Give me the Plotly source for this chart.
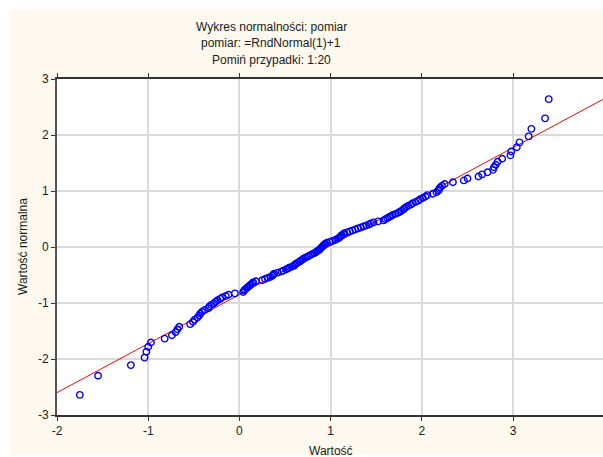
import plotly.graph_objects as go

# ---- data ----
obs_x = [
    -1.75, -1.55, -1.19, -1.04, -1.02, -1.00, -0.97, -0.82, -0.74, -0.70,
    -0.68, -0.66, -0.54, -0.51, -0.49, -0.46, -0.44, -0.43, -0.41, -0.38,
    -0.34, -0.33, -0.31, -0.28, -0.26, -0.24, -0.21, -0.19, -0.15, -0.12,
    -0.05, 0.04, 0.05, 0.06, 0.08, 0.09, 0.11, 0.12, 0.14, 0.15,
    0.18, 0.25, 0.28, 0.31, 0.34, 0.36, 0.37, 0.38, 0.42, 0.46,
    0.48, 0.51, 0.53, 0.55, 0.58, 0.60, 0.61, 0.62, 0.64, 0.66,
    0.67, 0.69, 0.70, 0.72, 0.74, 0.76, 0.78, 0.80, 0.82, 0.84,
    0.85, 0.87, 0.88, 0.89, 0.90, 0.91, 0.92, 0.93, 0.94, 0.96,
    0.99, 1.02, 1.05, 1.07, 1.09, 1.10, 1.11, 1.12, 1.14, 1.15,
    1.18, 1.21, 1.24, 1.27, 1.30, 1.33, 1.36, 1.39, 1.42, 1.44,
    1.47, 1.52, 1.58, 1.60, 1.62, 1.64, 1.66, 1.68, 1.71, 1.74,
    1.76, 1.78, 1.80, 1.81, 1.83, 1.85, 1.88, 1.90, 1.93, 1.96,
    1.98, 2.01, 2.04, 2.06, 2.12, 2.16, 2.18, 2.19, 2.20, 2.22,
    2.25, 2.34, 2.46, 2.50, 2.62, 2.66, 2.72, 2.78, 2.79, 2.81,
    2.83, 2.88, 2.97, 2.98, 3.04, 3.07, 3.17, 3.20, 3.35, 3.39,
]
normal_y = [
    -2.64, -2.30, -2.11, -1.975, -1.87, -1.78, -1.705, -1.637, -1.577, -1.522,
    -1.470, -1.423, -1.378, -1.336, -1.297, -1.259, -1.223, -1.189, -1.156, -1.124,
    -1.093, -1.063, -1.034, -1.006, -0.979, -0.952, -0.926, -0.901, -0.876, -0.852,
    -0.828, -0.805, -0.782, -0.759, -0.737, -0.716, -0.694, -0.673, -0.652, -0.632,
    -0.611, -0.591, -0.572, -0.552, -0.533, -0.514, -0.495, -0.476, -0.458, -0.439,
    -0.421, -0.403, -0.385, -0.367, -0.349, -0.332, -0.314, -0.297, -0.279, -0.262,
    -0.245, -0.228, -0.211, -0.194, -0.177, -0.160, -0.143, -0.126, -0.109, -0.092,
    -0.075, -0.058, -0.042, -0.025, -0.008, 0.008, 0.025, 0.042, 0.058, 0.075,
    0.092, 0.109, 0.126, 0.143, 0.160, 0.177, 0.194, 0.211, 0.228, 0.245,
    0.262, 0.279, 0.297, 0.314, 0.332, 0.349, 0.367, 0.385, 0.403, 0.421,
    0.439, 0.458, 0.476, 0.495, 0.514, 0.533, 0.552, 0.572, 0.591, 0.611,
    0.632, 0.652, 0.673, 0.694, 0.716, 0.737, 0.759, 0.782, 0.805, 0.828,
    0.852, 0.876, 0.901, 0.926, 0.952, 0.979, 1.006, 1.034, 1.063, 1.093,
    1.124, 1.156, 1.189, 1.223, 1.259, 1.297, 1.336, 1.378, 1.423, 1.470,
    1.522, 1.577, 1.637, 1.705, 1.781, 1.869, 1.975, 2.110, 2.297, 2.640,
]
fit_x = [-2.0, 4.0]
fit_y = [-2.60, 2.65]

x_tickvals = [-2, -1, 0, 1, 2, 3, 4]
x_ticktext = ["-2", "-1", "0", "1", "2", "3", "4"]
y_tickvals = [-3, -2, -1, 0, 1, 2, 3]
y_ticktext = ["-3", "-2", "-1", "0", "1", "2", "3"]

title_lines = ["Wykres normalności: pomiar", "pomiar: =RndNormal(1)+1", "Pomiń przypadki: 1:20"]
x_title = "Wartość"
y_title = "Wartość normalna"

# ---- layout geometry ----
W, H = 603, 457
ML, MR, MT, MB = 57, 0, 79, 42
PW, PH = W - ML - MR, H - MT - MB
CREAM = "#FDF9EE"
FONT = "Liberation Sans, Arial, sans-serif"


def px_x(p):
    return (p - ML) / PW


def px_y(p):
    return (H - MB - p) / PH


fig = go.Figure()
fig.add_trace(go.Scatter(
    x=fit_x, y=fit_y, mode="lines",
    line=dict(color="#FF0000", width=1), hoverinfo="skip", showlegend=False,
))
fig.add_trace(go.Scatter(
    x=obs_x, y=normal_y, mode="markers",
    marker=dict(symbol="circle-open", size=6.5, color="#0000FF", line=dict(width=1.4, color="#0000FF")),
    showlegend=False,
))

shapes = [
    # white outer border strips
    dict(type="rect", xref="paper", yref="paper", x0=px_x(-5), x1=px_x(9), y0=px_y(H + 5), y1=px_y(-5),
         fillcolor="white", line=dict(width=0), layer="below"),
    dict(type="rect", xref="paper", yref="paper", x0=px_x(-5), x1=px_x(W + 5), y0=px_y(10), y1=px_y(-5),
         fillcolor="white", line=dict(width=0), layer="below"),
    dict(type="rect", xref="paper", yref="paper", x0=px_x(-5), x1=px_x(W + 5), y0=px_y(H + 5), y1=px_y(455),
         fillcolor="white", line=dict(width=0), layer="below"),
]

annotations = []
for i, t in enumerate(title_lines):
    annotations.append(dict(
        text=t, xref="paper", yref="paper", x=px_x(271), y=px_y(26.5 + 16.7 * i),
        xanchor="center", yanchor="middle", showarrow=False,
        font=dict(family=FONT, size=12, color="#1a1a1a"),
    ))
annotations.append(dict(
    text=x_title, xref="paper", yref="paper", x=px_x(331), y=px_y(451),
    xanchor="center", yanchor="middle", showarrow=False,
    font=dict(family=FONT, size=12, color="#1a1a1a"),
))
annotations.append(dict(
    text=y_title, xref="paper", yref="paper", x=px_x(23), y=px_y(247),
    xanchor="center", yanchor="middle", showarrow=False, textangle=-90,
    font=dict(family=FONT, size=12, color="#1a1a1a"),
))

fig.update_layout(
    width=W, height=H,
    margin=dict(l=ML, r=MR, t=MT, b=MB, pad=0),
    paper_bgcolor=CREAM, plot_bgcolor="white",
    font=dict(family=FONT, size=12, color="#1a1a1a"),
    shapes=shapes, annotations=annotations,
    showlegend=False,
)
fig.update_xaxes(
    range=[-2, 3.985], tickmode="array", tickvals=x_tickvals, ticktext=x_ticktext,
    showgrid=True, gridcolor="#DADADA", gridwidth=1.5, zeroline=False,
    showline=True, linecolor="#333333", linewidth=2, mirror="ticks",
    ticks="outside", ticklen=4, tickcolor="#333333", tickwidth=1,
    tickfont=dict(family=FONT, size=12, color="#1a1a1a"),
)
fig.update_yaxes(
    range=[-3, 3], tickmode="array", tickvals=y_tickvals, ticktext=y_ticktext,
    showgrid=True, gridcolor="#DADADA", gridwidth=1.5, zeroline=False,
    showline=True, linecolor="#555555", linewidth=2,
    ticks="outside", ticklen=4, tickcolor="#333333", tickwidth=1,
    tickfont=dict(family=FONT, size=12, color="#1a1a1a"),
)

fig.write_html("out.html")
